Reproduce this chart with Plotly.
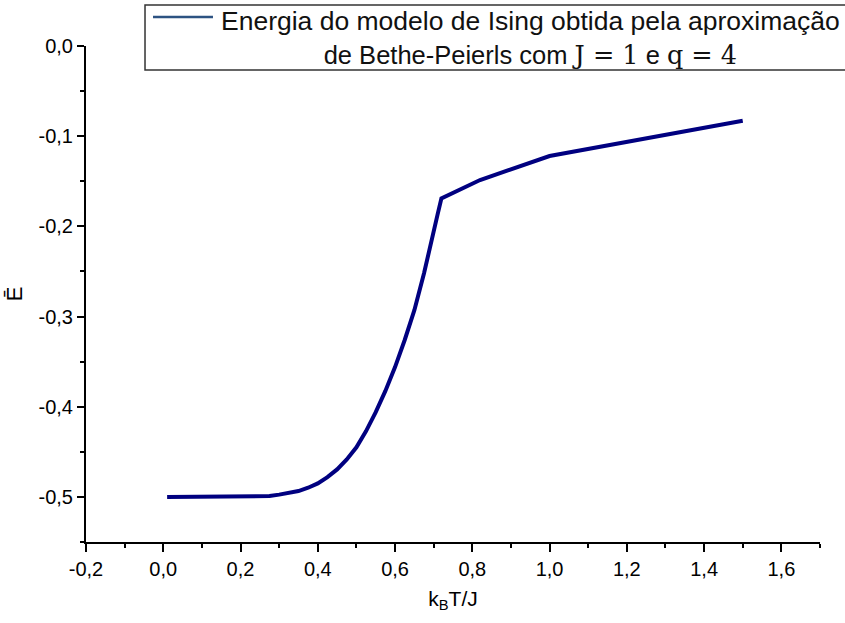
import plotly.graph_objects as go

# Bethe-Peierls energy per site for the Ising model (J = 1, q = 4)
temperature = [0.01, 0.05, 0.10, 0.15, 0.20, 0.25, 0.275, 0.30, 0.325, 0.35,
               0.375, 0.40, 0.425, 0.45, 0.475, 0.50, 0.525, 0.55, 0.575,
               0.60, 0.625, 0.65, 0.675, 0.69, 0.70, 0.71, 0.72,
               0.82, 1.00, 1.50]
energy = [-0.500, -0.500, -0.500, -0.500, -0.500, -0.4995, -0.499, -0.4975,
          -0.4958, -0.4935, -0.4898, -0.485, -0.478, -0.4695, -0.4585,
          -0.445, -0.427, -0.406, -0.3825, -0.356, -0.326, -0.293, -0.252,
          -0.226, -0.205, -0.187, -0.169, -0.1486, -0.122, -0.0828]

x_ticks = [-0.2, 0.0, 0.2, 0.4, 0.6, 0.8, 1.0, 1.2, 1.4, 1.6]
x_labels = ["-0,2", "0,0", "0,2", "0,4", "0,6", "0,8", "1,0", "1,2", "1,4", "1,6"]
y_ticks = [0.0, -0.1, -0.2, -0.3, -0.4, -0.5]
y_labels = ["0,0", "-0,1", "-0,2", "-0,3", "-0,4", "-0,5"]

# series caption: plain text plus the parameters set in a math-style serif
math_style = "font-family:'DejaVu Serif'"
legend_text = (
    "Energia do modelo de Ising obtida pela aproximação<br>"
    "<span style=\"font-size:25.5px\">de Bethe-Peierls com "
    f"<span style=\"{math_style}\">J = 1</span>"
    " e "
    f"<span style=\"{math_style}\">q = 4</span></span>"
)

sans = "Arial, Liberation Sans, sans-serif"
tick_font = dict(family=sans, size=20, color="black")

fig = go.Figure()
fig.add_trace(go.Scatter(
    x=temperature, y=energy, mode="lines",
    line=dict(color="#000080", width=4),
    showlegend=False,
))

fig.update_layout(
    width=845, height=623,
    margin=dict(l=86, r=25, t=46, b=81),
    paper_bgcolor="white", plot_bgcolor="white",
    xaxis=dict(
        range=[-0.2, 1.7], tickvals=x_ticks, ticktext=x_labels,
        showline=True, linecolor="black", linewidth=2,
        ticks="outside", ticklen=8, tickwidth=2, tickcolor="black",
        minor=dict(dtick=0.1, ticks="outside", ticklen=4, tickwidth=2, tickcolor="black"),
        showgrid=False, zeroline=False, tickfont=tick_font,
        title=dict(text="k<sub>B</sub>T/J", font=dict(family=sans, size=21, color="black"), standoff=12),
    ),
    yaxis=dict(
        range=[-0.55, 0.0], tickvals=y_ticks, ticktext=y_labels,
        showline=True, linecolor="black", linewidth=2,
        ticks="outside", ticklen=7, tickwidth=2, tickcolor="black",
        minor=dict(dtick=0.05, ticks="outside", ticklen=4, tickwidth=2, tickcolor="black"),
        showgrid=False, zeroline=False, tickfont=tick_font,
        title=dict(text="Ē", font=dict(family=sans, size=22, color="black"), standoff=10),
    ),
    shapes=[
        dict(type="rect", xref="paper", yref="paper",
             x0=0.0804, x1=1.05, y0=0.9516, y1=1.0827,
             line=dict(color="#333333", width=1.5), fillcolor="white", layer="above"),
        dict(type="line", xref="paper", yref="paper",
             x0=0.0913, x1=0.1730, y0=1.0585, y1=1.0585,
             line=dict(color="#2d5382", width=2.5)),
    ],
    annotations=[
        dict(xref="paper", yref="paper", x=0.605, y=1.016,
             xanchor="center", yanchor="middle", align="center",
             text=legend_text, showarrow=False,
             font=dict(family=sans, size=26.5, color="#111111")),
    ],
)

fig.write_html("out.html")
